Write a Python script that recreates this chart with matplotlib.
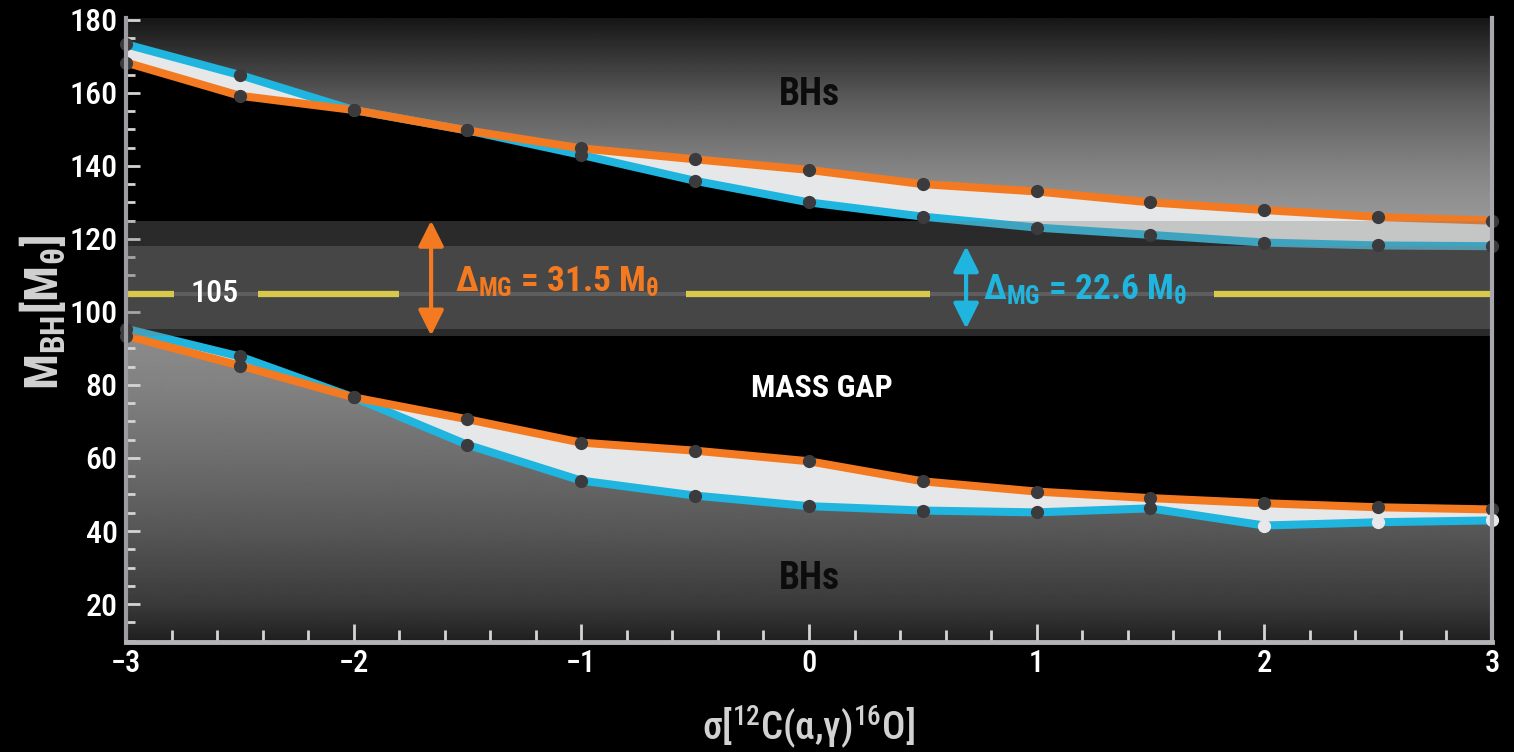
import numpy as np
import matplotlib
matplotlib.use("Agg")
import matplotlib.pyplot as plt
from matplotlib import font_manager as fm

# ---------------- data ----------------
sigma = [-3, -2.5, -2, -1.5, -1, -0.5, 0, 0.5, 1, 1.5, 2, 2.5, 3]
upper_orange = [168.3, 159.2, 155.3, 149.7, 144.8, 141.8, 138.9, 135.0, 133.0, 130.0, 127.9, 126.0, 125.0]
upper_blue = [173.3, 164.9, 155.3, 149.7, 143.0, 135.9, 130.0, 126.1, 123.1, 121.1, 119.0, 118.2, 118.0]
lower_orange = [93.5, 85.3, 76.6, 70.6, 64.2, 62.0, 59.1, 53.6, 50.8, 49.0, 47.6, 46.5, 45.9]
lower_blue = [95.4, 87.8, 76.6, 63.6, 53.8, 49.7, 46.8, 45.6, 45.1, 46.2, 41.5, 42.4, 42.9]
lower_blue_white = [False] * 10 + [True, True, True]
ref_mass = 105
ref_label = "105"
yellow_segments = [(-3.0, -2.79), (-2.42, -1.80), (-0.54, 0.53), (1.78, 3.0)]
gap_orange_text = "31.5"
gap_blue_text = "22.6"
yticks_major = [20, 40, 60, 80, 100, 120, 140, 160, 180]
xticks_major = [-3, -2, -1, 0, 1, 2, 3]

# ---------------- fonts ----------------
names = {f.name for f in fm.fontManager.ttflist}
FONT = 'DejaVu Sans'
for cand in ['Roboto Condensed', 'Liberation Sans Narrow', 'Open Sans Condensed', 'Noto Sans Display']:
    if cand in names:
        FONT = cand
        break
plt.rcParams['font.family'] = [FONT, 'DejaVu Sans']
plt.rcParams['font.weight'] = 'bold'
plt.rcParams['mathtext.default'] = 'regular'

ORANGE = '#f37a21'
BLUE = '#1fb5de'
DOT = '#3b3b3e'
FILL = '#e6e7e8'

fig = plt.figure(figsize=(15.14, 7.52), dpi=100, facecolor='black')
ax = fig.add_axes([126/1514, 1-642/752, (1492-126)/1514, (642-18)/752])
ax.set_facecolor('black')
ymin, ymax = 9.6, 180.5
ax.set_xlim(-3, 3)
ax.set_ylim(ymin, ymax)

x = np.array(sigma)
uo, ub = np.array(upper_orange), np.array(upper_blue)
lo, lb = np.array(lower_orange), np.array(lower_blue)

# background gradient
vv = np.linspace(ymin, ymax, 600)
bright = np.interp(vv, [9.6, 14, 20, 40, 60, 80, 95, 125, 134, 144, 158, 180.5],
                   [0.12, 0.17, 0.23, 0.34, 0.43, 0.51, 0.55, 0.6, 0.55, 0.48, 0.36, 0.09])
img = np.repeat(bright[:, None], 2, axis=1)
ax.imshow(img, extent=[-3, 3, ymin, ymax], origin='lower', aspect='auto',
          cmap='gray', vmin=0, vmax=1, zorder=0, interpolation='bilinear')

# mass gap black region
ax.fill_between(x, np.maximum(lo, lb), np.minimum(uo, ub), color='black', zorder=1, lw=0)
# uncertainty fills
ax.fill_between(x, uo, ub, color=FILL, zorder=2, lw=0)
ax.fill_between(x, lo, lb, color=FILL, zorder=2, lw=0)

# lines
for yy, c in [(ub, BLUE), (uo, ORANGE), (lb, BLUE), (lo, ORANGE)]:
    ax.plot(x, yy, color=c, lw=5.8, zorder=3, solid_capstyle='butt', clip_on=False)

# bands (semi-transparent)
ax.axhspan(lo[0], uo[-1], color=(0.5, 0.5, 0.5), alpha=0.33, zorder=4, lw=0)
ax.axhspan(lb[0], ub[-1], color=(0.5, 0.5, 0.5), alpha=0.33, zorder=4, lw=0)

# dots
ax.plot(x, uo, 'o', color=DOT, ms=8.5, zorder=6, clip_on=False)
ax.plot(x, ub, 'o', color=DOT, ms=8.5, zorder=6, clip_on=False)
ax.plot(x, lo, 'o', color=DOT, ms=8.5, zorder=6, clip_on=False)
wmask = np.array(lower_blue_white)
ax.plot(x[~wmask], lb[~wmask], 'o', color=DOT, ms=8.5, zorder=6, clip_on=False)
ax.plot(x[wmask], lb[wmask], 'o', color='#e8e8ea', ms=8.5, zorder=6, clip_on=False)

# reference line at 105
ax.axhline(ref_mass, color='#5e5e5e', lw=3, zorder=5)
for a, b in yellow_segments:
    ax.plot([a, b], [ref_mass, ref_mass], color='#d8c94c', lw=4.5, zorder=5,
            solid_capstyle='butt')
ax.text(-2.61, ref_mass, ref_label, color='white', fontsize=23, ha='center', va='center',
        fontweight='medium', zorder=7)

# arrows
arrow_kw = dict(arrowstyle='<|-|>,head_length=0.7,head_width=0.35', lw=3,
                shrinkA=0, shrinkB=0, mutation_scale=22)
ax.annotate('', xy=(-1.66, uo[-1]), xytext=(-1.66, lo[0]),
            arrowprops=dict(color=ORANGE, **arrow_kw), zorder=7)
ax.annotate('', xy=(0.69, ub[-1]), xytext=(0.69, lb[0]),
            arrowprops=dict(color=BLUE, **arrow_kw), zorder=7)
ax.text(-1.557, 105.6, r'Δ$_{MG}$ = ' + gap_orange_text + r' M$_{θ}$', color=ORANGE,
        fontsize=25.5, ha='left', va='baseline', zorder=7)
ax.text(0.763, 103.4, r'Δ$_{MG}$ = ' + gap_blue_text + r' M$_{θ}$', color=BLUE,
        fontsize=25.5, ha='left', va='baseline', zorder=7)

# region labels
ax.text(0.0, 159.5, 'BHs', color='#0c0c0c', fontsize=27, ha='center', va='center', zorder=7)
ax.text(0.055, 79.3, 'MASS GAP', color='white', fontsize=23, ha='center', va='center', zorder=7)
ax.text(0.0, 27.1, 'BHs', color='#0c0c0c', fontsize=27, ha='center', va='center', zorder=7)

# spines
ax.spines['top'].set_visible(False)
ax.spines['left'].set_color('#9c9ca0')
ax.spines['left'].set_linewidth(3)
ax.spines['bottom'].set_color('#b4b4b8')
ax.spines['bottom'].set_linewidth(3.5)
ax.spines['right'].set_color('#a8a8ac')
ax.spines['right'].set_linewidth(3)
for s in ax.spines.values():
    s.set_zorder(8)

ax.set_yticks(yticks_major)
ax.set_yticks(np.arange(10, 181, 5), minor=True)
ax.set_xticks(xticks_major)
ax.set_xticks(np.arange(-3, 3.01, 0.2), minor=True)
ax.set_xticklabels([str(t) if t >= 0 else '−' + str(-t) for t in xticks_major])
ax.tick_params(axis='y', which='major', direction='in', length=10, width=2,
               color='#d4d4d4', labelcolor='white', labelsize=23, pad=6)
ax.tick_params(axis='y', which='minor', direction='in', length=6.5, width=2, color='#d4d4d4')
ax.tick_params(axis='x', which='major', direction='in', length=13, width=2,
               color='#d4d4d4', labelcolor='white', labelsize=22, pad=5)
ax.tick_params(axis='x', which='minor', direction='in', length=9, width=2, color='#d4d4d4')
ax.tick_params(right=False, top=False, which='both')
for lab in ax.get_yticklabels() + ax.get_xticklabels():
    lab.set_fontweight('medium')

fig.text(42/1514, 1-312/752, r'M$_{BH}$[M$_{θ}$]', color='#d2d2d2', fontsize=34,
         rotation=90, ha='center', va='center')
fig.text(808/1514, 1-727/752, r'σ[$^{12}$C(α,γ)$^{16}$O]', color='#d2d2d2', fontsize=28,
         fontweight='medium', ha='center', va='center')

fig.savefig('out.png', dpi=100, facecolor='black')
